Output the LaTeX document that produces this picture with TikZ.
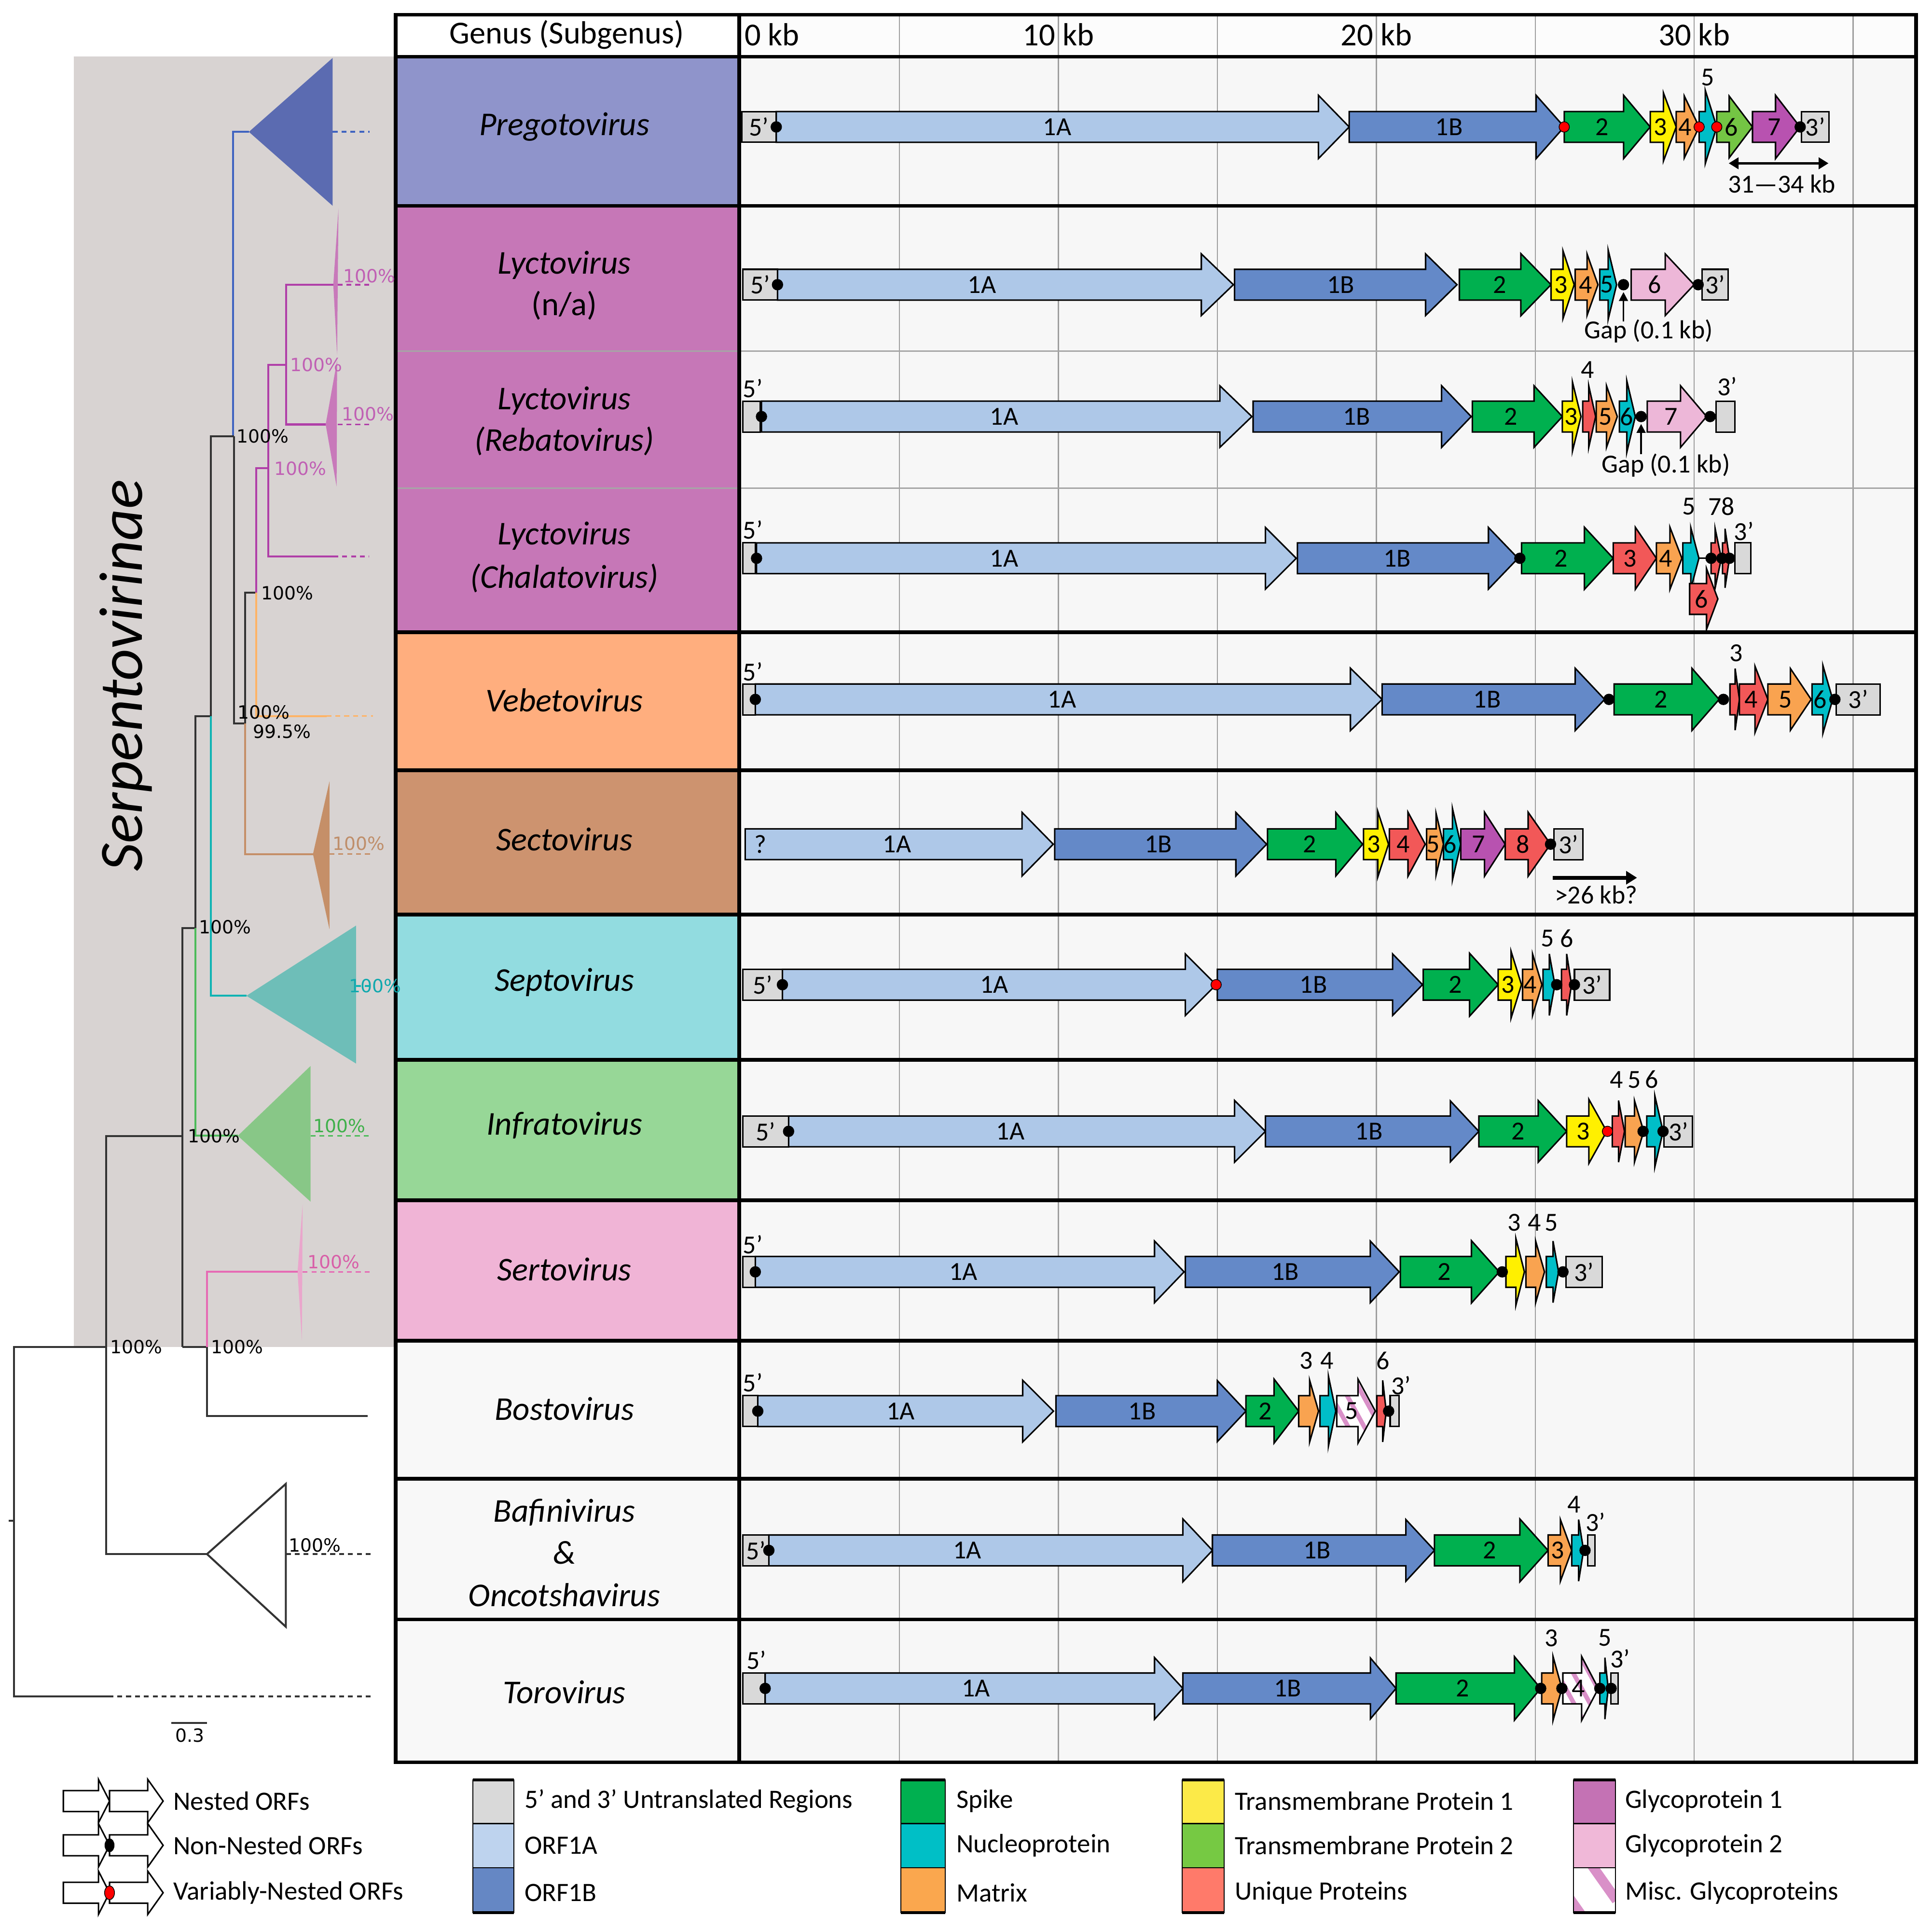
\documentclass[tikz,border=0pt]{standalone}
\usepackage{fontspec}
\setmainfont{Carlito}
\newfontfamily\djvfont{DejaVu Sans}
\usetikzlibrary{arrows.meta}
\newcounter{nn}
% colours
\definecolor{c1A}{HTML}{AEC8E8}
\definecolor{c1B}{HTML}{6489C8}
\definecolor{cS}{HTML}{00B04F}
\definecolor{cN}{HTML}{00BEC8}
\definecolor{cM}{HTML}{F9A350}
\definecolor{cT1}{HTML}{FFF000}
\definecolor{cT2}{HTML}{74C544}
\definecolor{cU}{HTML}{F25858}
\definecolor{cG1}{HTML}{B852B0}
\definecolor{cG2}{HTML}{EDB7D8}
\definecolor{cMisc}{HTML}{D990C8}
\definecolor{cUTR}{HTML}{D9D9D9}
\definecolor{lUTR}{HTML}{D9D9D9}
\definecolor{l1A}{HTML}{BED3EE}
\definecolor{l1B}{HTML}{6587C4}
\definecolor{lS}{HTML}{00B050}
\definecolor{lN}{HTML}{00BFC6}
\definecolor{lM}{HTML}{FAA74E}
\definecolor{lT1}{HTML}{FCEA48}
\definecolor{lT2}{HTML}{76C943}
\definecolor{lU}{HTML}{FF7A6A}
\definecolor{lG1}{HTML}{C472B4}
\definecolor{lG2}{HTML}{F0B8D8}
\definecolor{gPreg}{HTML}{8F94CB}
\definecolor{gLyc}{HTML}{C677B7}
\definecolor{gVeb}{HTML}{FFAE7E}
\definecolor{gSec}{HTML}{CD936F}
\definecolor{gSep}{HTML}{92DCE0}
\definecolor{gInf}{HTML}{97D797}
\definecolor{gSer}{HTML}{F0B4D6}
\definecolor{gWhite}{HTML}{F8F8F8}
\definecolor{gridbg}{HTML}{F7F7F7}
\definecolor{treebg}{HTML}{D8D3D2}
\definecolor{tBlue}{HTML}{3F63C0}
\definecolor{tBlueF}{HTML}{5B6BB1}
\definecolor{tMag}{HTML}{B03FA8}
\definecolor{tMagF}{HTML}{C879BA}
\definecolor{tMagL}{HTML}{C060B4}
\definecolor{tOr}{HTML}{FFB366}
\definecolor{tBr}{HTML}{C58F68}
\definecolor{tBrL}{HTML}{BF8E6A}
\definecolor{tCy}{HTML}{10B3B3}
\definecolor{tCyF}{HTML}{6EBEB8}
\definecolor{tCyL}{HTML}{10A8AD}
\definecolor{tGr}{HTML}{4DBB5A}
\definecolor{tGrF}{HTML}{88C787}
\definecolor{tGrL}{HTML}{3FB04A}
\definecolor{tPk}{HTML}{E66AB4}
\definecolor{tPkF}{HTML}{EAA6CC}
\definecolor{tPkL}{HTML}{D85FA8}
\definecolor{tBk}{HTML}{333333}
% fonts
\newcommand\orffont{\fontsize{15}{18}\selectfont}
\newcommand\genfont{\fontsize{19.2}{23}\selectfont\itshape}
\newcommand\genupfont{\fontsize{19.2}{23}\selectfont}
\newcommand\hdrfont{\fontsize{18.5}{22}\selectfont}
\newcommand\treefont{\djvfont\fontsize{10.5}{12}\selectfont}
\newcommand\legfont{\fontsize{15.3}{18}\selectfont}
% macros
\newcommand\orf[8]{%
 \path[orfline,fill=#5] (#1,#4-12.5) -- (#2,#4-12.5) -- (#2,#4-#6) -- (#3,#4) -- (#2,#4+#6) -- (#2,#4+12.5) -- (#1,#4+12.5) -- cycle;
 \stepcounter{nn}\node[lbl] (n\arabic{nn}) at (#7,#4) {#8};}
\newcommand\orfnl[6]{%
 \path[orfline,fill=#5] (#1,#4-12.5) -- (#2,#4-12.5) -- (#2,#4-#6) -- (#3,#4) -- (#2,#4+#6) -- (#2,#4+12.5) -- (#1,#4+12.5) -- cycle;}
\newcommand\miscorf[7]{%
 \begin{scope}
 \clip (#1,#4-12.5) -- (#2,#4-12.5) -- (#2,#4-#5) -- (#3,#4) -- (#2,#4+#5) -- (#2,#4+12.5) -- (#1,#4+12.5) -- cycle;
 \fill[white] (#1,#4-#5) rectangle (#3,#4+#5);
 \foreach \k in {0,...,6} \draw[cMisc,line width=0.9mm] ({#1-25+\k*13},#4-#5) -- ({#1-25+\k*13+1.1*#5},#4+#5);
 \end{scope}
 \path[orfline] (#1,#4-12.5) -- (#2,#4-12.5) -- (#2,#4-#5) -- (#3,#4) -- (#2,#4+#5) -- (#2,#4+12.5) -- (#1,#4+12.5) -- cycle;
 \stepcounter{nn}\node[lbl] (n\arabic{nn}) at (#6,#4) {#7};}
\newcommand\utrbox[4]{%
 \path[orfline,fill=cUTR] (#1,#3-12.5) rectangle (#2,#3+12.5);
 \stepcounter{nn}\node[lbl] (n\arabic{nn}) at ({(#1+#2)/2},#3) {#4};}
\newcommand\bdot[2]{\fill[black] (#1,#2) circle[radius=1.15mm];}
\newcommand\rdot[2]{\filldraw[fill=red,draw=black,line width=0.15mm] (#1,#2) circle[radius=1.05mm];}
\newcommand\lab[3]{\stepcounter{nn}\node[lbl] (n\arabic{nn}) at (#1,#2) {#3};}
\newcommand\legarr[4]{%
 \path[draw=black,line width=0.3mm,fill=white] (#1,#4-8.5) -- (#2,#4-8.5) -- (#2,#4-17.6) -- (#3,#4) -- (#2,#4+17.6) -- (#2,#4+8.5) -- (#1,#4+8.5) -- cycle;}
\begin{document}
\begin{tikzpicture}[x=0.25mm,y=-0.25mm,
 orfline/.style={draw=black,line width=0.3mm,line join=miter},
 lbl/.style={font=\orffont,inner sep=0pt},
 gridline/.style={draw=black!38,line width=0.25mm},
 sepline/.style={draw=black!35,line width=0.3mm},
 thickline/.style={draw=black,line width=0.75mm},
 tline/.style={line width=0.4mm},
 tdash/.style={line width=0.35mm,dash pattern=on 1mm off 0.8mm},
 tlab/.style={font=\treefont,anchor=west,inner sep=0.5pt},
 genus/.style={font=\genfont,inner sep=0pt},
 leg/.style={font=\legfont,anchor=west,inner sep=0pt}]
\useasboundingbox (0,0) rectangle (1568,1566.04);
\fill[white] (0,0) rectangle (1568,1566.04);
% ---------------- tree background
\fill[treebg] (60,46) rectangle (321,1093);
% ---------------- table backgrounds
\fill[gridbg] (600,12) rectangle (1555,1430);
\fill[white!60!gridbg] (600,12) rectangle (1555,46);
\fill[white] (321,12) rectangle (600,46);
\fill[gPreg] (321,46) rectangle (600,167);
\fill[gLyc] (321,167) rectangle (600,513);
\fill[gVeb] (321,513) rectangle (600,625);
\fill[gSec] (321,625) rectangle (600,742);
\fill[gSep] (321,742) rectangle (600,860);
\fill[gInf] (321,860) rectangle (600,974);
\fill[gSer] (321,974) rectangle (600,1088);
\fill[gWhite] (321,1088) rectangle (600,1430);
\foreach \gx in {730,859,988,1117,1246,1375,1504} \draw[gridline] (\gx,12) -- (\gx,1430);
\draw[sepline] (321,285) -- (1555,285);
\draw[sepline] (321,396) -- (1555,396);
\foreach \ry in {46,167,513,625,742,860,974,1088,1200,1314} \draw[thickline] (321,\ry) -- (1555,\ry);
\draw[thickline] (600,12) -- (600,1430);
\draw[thickline] (321,12) rectangle (1555,1430);
% ---------------- header
\node[font=\hdrfont,inner sep=0pt] (hgenus) at (460,28) {Genus (Subgenus)};
\node[font=\hdrfont,inner sep=0pt,anchor=west] (h0) at (604,28) {0 kb};
\node[font=\hdrfont,inner sep=0pt] (h10) at (859,28) {10 kb};
\node[font=\hdrfont,inner sep=0pt] (h20) at (1117,28) {20 kb};
\node[font=\hdrfont,inner sep=0pt] (h30) at (1375,28) {30 kb};
% ---------------- genus names
\node[genus] (gpreg) at (458,103) {Pregotovirus};
\node[genus] (gly1) at (458,215) {Lyctovirus};
\node[font=\genupfont,inner sep=0pt] (gly1s) at (458,248) {(n/a)};
\node[genus] (gly2) at (458,325) {Lyctovirus};
\node[genus] (gly2s) at (458,358) {(Rebatovirus)};
\node[genus] (gly3) at (458,435) {Lyctovirus};
\node[genus] (gly3s) at (458,469) {(Chalatovirus)};
\node[genus] (gveb) at (458,568) {Vebetovirus};
\node[genus] (gsec) at (458,681) {Sectovirus};
\node[genus] (gsep) at (458,797) {Septovirus};
\node[genus] (ginf) at (458,913) {Infratovirus};
\node[genus] (gser) at (458,1030) {Sertovirus};
\node[genus] (gbos) at (458,1143) {Bostovirus};
\node[genus] (gbaf) at (458,1227) {Bafinivirus};
\node[genus] (gamp) at (458,1260) {\&};
\node[genus] (gonc) at (458,1294) {Oncotshavirus};
\node[genus] (gtor) at (458,1373) {Torovirus};
% ---------------- tree
\node[font=\fontsize{35.6}{40}\selectfont\itshape,rotate=90,inner sep=0pt] (serp) at (102,548) {Serpentovirinae};
% blue
\fill[tBlueF] (202,107) -- (270,47) -- (270,167) -- cycle;
\draw[tline,tBlue] (189,354) -- (189,107) -- (202,107);
\draw[tdash,tBlue] (270,107) -- (300,107);
% black backbone
\draw[tline,tBk] (190,354) -- (171,354) -- (171,581);
\draw[tline,tBk] (190,354) -- (190,587) -- (199,587) -- (199,481) -- (208,481);
\draw[tline,tBk] (171,581) -- (158.6,581) -- (158.6,753);
\draw[tline,tBk] (158.6,753) -- (148,753) -- (148,1093);
\draw[tline,tBk] (148,922) -- (86,922) -- (86,1261) -- (168,1261);
\draw[tline,tBk] (148,1093) -- (168,1093) -- (168,1149) -- (298.5,1149);
\draw[tline,tBk] (86,1093) -- (11.4,1093) -- (11.4,1376.5) -- (88,1376.5);
\draw[tdash,tBk] (88,1376.5) -- (300.6,1376.5);
\draw[tline,tBk] (7,1234) -- (11.4,1234);
\draw[tline,tBk] (168,1261) -- (232,1204) -- (232,1320) -- cycle;
\draw[tdash,tBk] (232,1261) -- (300.6,1261);
% magenta (Lyctovirus)
\fill[tMagF] (270.5,231) -- (274.7,169) -- (273.6,288) -- cycle;
\fill[tMagF] (264.3,344.4) -- (273.6,292.5) -- (273.2,394.8) -- cycle;
\draw[tline,tMag] (208,481) -- (208,380) -- (217.7,380);
\draw[tline,tMag] (232.2,296) -- (217.7,296) -- (217.7,451.6) -- (270.5,451.6);
\draw[tline,tMag] (270.5,231) -- (232.2,231) -- (232.2,344.4) -- (264.3,344.4);
\draw[tdash,tMag] (270.5,451.6) -- (299.5,451.6);
\draw[tdash,tMag] (274,231) -- (300,231);
\draw[tdash,tMag] (274,344.4) -- (299.5,344.4);
% orange
\draw[tline,tOr] (208,481) -- (208,581) -- (265,581);
\draw[tdash,tOr] (265,581) -- (302.7,581);
% brown
\fill[tBr] (254,693) -- (267.4,634) -- (267.4,754) -- cycle;
\draw[tline,tBr] (199,587) -- (199,693) -- (254,693);
\draw[tdash,tBr] (267.4,693) -- (302.7,693);
% cyan
\fill[tCyF] (200,808) -- (289,751) -- (289,863) -- cycle;
\draw[tline,tCy] (171,581) -- (171,808) -- (200,808);
\draw[tdash,tCy] (289,800) -- (301.6,800);
% green
\fill[tGrF] (193,921.6) -- (252,865) -- (252,975) -- cycle;
\draw[tline,tGr] (158.6,753) -- (158.6,921.6) -- (193,921.6);
\draw[tdash,tGr] (252,921.6) -- (300.6,921.6);
% pink (Sertovirus)
\fill[tPkF] (241.5,1032) -- (245.6,977) -- (245,1088) -- cycle;
\draw[tline,tPk] (168,1093) -- (168,1032) -- (241.5,1032);
\draw[tdash,tPk] (245.6,1032) -- (300.6,1032);
% support values
\node[tlab,text=black] (s1) at (191,354) {100\%};
\node[tlab,text=tMagL] (s2) at (277.5,224) {100\%};
\node[tlab,text=tMagL] (s3) at (234.5,296) {100\%};
\node[tlab,text=tMagL] (s4) at (276.5,336) {100\%};
\node[tlab,text=tMagL] (s5) at (221.5,380) {100\%};
\node[tlab,text=black] (s6) at (211,481) {100\%};
\node[tlab,text=black] (s7) at (192,578) {100\%};
\node[tlab,text=black] (s8) at (204.5,593.5) {99.5\%};
\node[tlab,text=tBrL] (s9) at (269,684.5) {100\%};
\node[tlab,text=black] (s10) at (160.5,752) {100\%};
\node[tlab,text=tCyL] (s11) at (282.5,800) {100\%};
\node[tlab,text=tGrL] (s12) at (253.5,913.5) {100\%};
\node[tlab,text=black] (s13) at (151.5,921.6) {100\%};
\node[tlab,text=tPkL] (s14) at (248.5,1024) {100\%};
\node[tlab,text=black] (s15) at (88.5,1093) {100\%};
\node[tlab,text=black] (s16) at (170.5,1093) {100\%};
\node[tlab,text=black] (s17) at (233.5,1254) {100\%};
\draw[tline,tBk] (139,1398) -- (168,1398);
\node[font=\treefont,inner sep=0pt] (scale) at (154,1408) {0.3};
% ---------------- Row 1: Pregotovirus
\utrbox{602}{630}{103}{5’}
\orf{630}{1070}{1095}{103}{c1A}{25.7}{858}{1A}
\orf{1095}{1246.7}{1269.5}{103}{c1B}{25.7}{1176}{1B}
\orf{1269.5}{1317.7}{1339.3}{103}{cS}{25.7}{1300}{2}
\orf{1339.3}{1350}{1360.4}{103}{cT1}{27.7}{1347.5}{3}
\orf{1360.4}{1367}{1379}{103}{cM}{25}{1367.5}{4}
\orfnl{1379}{1384}{1393.3}{103}{cN}{29.7}
\orf{1393.3}{1403.4}{1422.3}{103}{cT2}{25}{1405}{6}
\orf{1422.3}{1441}{1460.9}{103}{cG1}{25.7}{1440}{7}
\utrbox{1462}{1484.5}{103}{3’}
\bdot{630}{103}\rdot{1269.5}{103}\rdot{1379}{103}\rdot{1393.3}{103}\bdot{1461}{103}
\lab{1386}{63}{5}
\draw[line width=0.55mm,{Triangle[length=2mm,width=2.3mm]}-{Triangle[length=2mm,width=2.3mm]}] (1403,132.5) -- (1484,132.5);
\lab{1446}{149}{31—34 kb}
% ---------------- Row 2: Lyctovirus (n/a)
\utrbox{603}{631}{231}{5’}
\orf{631}{975}{1001}{231}{c1A}{25}{797}{1A}
\orf{1002}{1157}{1182.5}{231}{c1B}{25}{1088}{1B}
\orf{1184.4}{1234.3}{1258.8}{231}{cS}{25.2}{1217}{2}
\orf{1258.8}{1268.5}{1277.6}{231}{cT1}{27.5}{1267}{3}
\orf{1278.4}{1288}{1296.9}{231}{cM}{25}{1287}{4}
\orf{1298.3}{1305.2}{1312}{231}{cN}{28}{1304}{5}
\orf{1323.9}{1351.5}{1374.9}{231}{cG2}{25}{1343}{6}
\utrbox{1381.5}{1402.5}{231}{3’}
\bdot{631}{231}\bdot{1317.6}{231}\bdot{1378.2}{231}
\draw[line width=0.35mm,-{Triangle[length=1.8mm,width=1.8mm]}] (1317.6,261) -- (1317.6,237);
\lab{1338}{268.5}{Gap (0.1 kb)}
% ---------------- Row 3: Lyctovirus (Rebatovirus)
\utrbox{603}{617}{338}{}
\lab{611}{315}{5’}
\orf{618}{990}{1016}{338}{c1A}{25}{815}{1A}
\orf{1017}{1170}{1194}{338}{c1B}{25}{1101}{1B}
\orf{1194.9}{1245}{1268}{338}{cS}{25}{1226}{2}
\orf{1268}{1276.2}{1283.1}{338}{cT1}{28}{1275}{3}
\orfnl{1284.5}{1289.4}{1295}{338}{cU}{25}
\orf{1295.5}{1303.8}{1312.6}{338}{cM}{25}{1303}{5}
\orf{1314.3}{1320.3}{1327.2}{338}{cN}{29}{1320}{6}
\orf{1336.9}{1363.9}{1385.1}{338}{cG2}{25}{1356}{7}
\utrbox{1392.6}{1408}{338}{}
\bdot{618}{338}\bdot{1331.9}{338}\bdot{1387.9}{338}
\lab{1288.6}{300}{4}
\lab{1401.7}{313.5}{3’}
\draw[line width=0.35mm,-{Triangle[length=1.8mm,width=1.8mm]}] (1331.9,368.5) -- (1331.9,344);
\lab{1352}{377.5}{Gap (0.1 kb)}
% ---------------- Row 4: Lyctovirus (Chalatovirus)
\utrbox{603}{613}{453}{}
\lab{611}{430}{5’}
\orf{614}{1027}{1052}{453}{c1A}{25}{815}{1A}
\orf{1053}{1208}{1232}{453}{c1B}{25}{1134}{1B}
\orf{1234.9}{1285.9}{1309.3}{453}{cS}{25.2}{1267}{2}
\orf{1309.3}{1327.2}{1344.3}{453}{cU}{25.2}{1323}{3}
\orf{1344.3}{1355.3}{1365}{453}{cM}{25.2}{1352}{4}
\orfnl{1365.8}{1372.2}{1378.8}{453}{cN}{25}
\draw[line width=0.3mm] (1378.8,453) -- (1388.7,453);
\orfnl{1388.7}{1392}{1397}{453}{cU}{24}
\orfnl{1398}{1400}{1403.6}{453}{cU}{24}
\utrbox{1408}{1421}{453}{}
\orf{1371.3}{1385}{1394.2}{486}{cU}{24.6}{1381}{6}
\bdot{614}{453}\bdot{1233.5}{453}\bdot{1388.7}{453}\bdot{1397.5}{453}\bdot{1403.6}{453}
\lab{1370.5}{411}{5}
\lab{1397}{411}{78}
\lab{1415.4}{431}{3’}
% ---------------- Row 5: Vebetovirus
\utrbox{603}{613}{567.5}{}
\lab{611}{545}{5’}
\orf{613}{1096}{1121.7}{567.5}{c1A}{25.3}{862}{1A}
\orf{1121.7}{1278.4}{1302.3}{567.5}{c1B}{25.3}{1207}{1B}
\orf{1310}{1373.1}{1395.2}{567.5}{cS}{25.3}{1348}{2}
\orfnl{1404}{1408.2}{1411.7}{567.5}{cU}{25}
\orf{1411.7}{1424.3}{1434.8}{567.5}{cU}{27}{1421}{4}
\orf{1434.8}{1453.1}{1469.9}{567.5}{cM}{25}{1449}{5}
\orf{1470.6}{1479.4}{1487.4}{567.5}{cN}{27.7}{1477}{6}
\utrbox{1490.2}{1526}{567.5}{3’}
\bdot{613}{567.5}\bdot{1305.8}{567.5}\bdot{1398.7}{567.5}\bdot{1489.2}{567.5}
\lab{1409.2}{530}{3}
% ---------------- Row 6: Sectovirus
\orf{604.8}{829.5}{854.8}{685}{c1A}{25.8}{728}{1A}
\lab{617}{685}{?}
\orf{856}{1003}{1028}{685}{c1B}{25.8}{940}{1B}
\orf{1028.7}{1084.1}{1105.9}{685}{cS}{25.8}{1063}{2}
\orf{1106.6}{1118.2}{1126.9}{685}{cT1}{26.6}{1115}{3}
\orf{1127.6}{1142.7}{1156.7}{685}{cU}{26}{1139}{4}
\orf{1157.8}{1165.5}{1171.5}{685}{cM}{25}{1163}{5}
\orf{1171.5}{1178.8}{1185.5}{685}{cN}{29}{1177}{6}
\orf{1185.5}{1204.8}{1221.6}{685}{cG1}{26}{1200}{7}
\orf{1221.6}{1240.2}{1258.4}{685}{cU}{26}{1236}{8}
\utrbox{1261.2}{1284.7}{685}{3’}
\bdot{1258.4}{685}
\draw[line width=0.75mm,-{Triangle[length=2.2mm,width=2.6mm]}] (1260.2,712.2) -- (1328.6,712.2);
\lab{1295.3}{726}{>26 kb?}
% ---------------- Row 7: Septovirus
\utrbox{603}{635}{799}{5’}
\orf{635}{962}{987}{799}{c1A}{25}{807}{1A}
\orf{988}{1130.2}{1154.5}{799}{c1B}{25}{1066}{1B}
\orf{1155.1}{1192.7}{1215.9}{799}{cS}{25.5}{1181}{2}
\orf{1215.9}{1226.4}{1234.8}{799}{cT1}{27}{1224}{3}
\orf{1235.7}{1243.8}{1251.4}{799}{cM}{25}{1242}{4}
\orfnl{1252.3}{1257.4}{1261.9}{799}{cN}{25}
\orfnl{1267.3}{1271.5}{1275.4}{799}{cU}{25}
\utrbox{1277.8}{1306.4}{799}{3’}
\bdot{635}{799}\rdot{987}{799}\bdot{1263.4}{799}\bdot{1277.8}{799}
\lab{1255.9}{761.5}{5}
\lab{1271.5}{761.5}{6}
% ---------------- Row 8: Infratovirus
\utrbox{603}{640}{918}{5’}
\orf{640}{1002}{1027}{918}{c1A}{25}{820}{1A}
\orf{1027}{1177.1}{1200.2}{918}{c1B}{24.7}{1111}{1B}
\orf{1200.2}{1248.4}{1271.5}{918}{cS}{25}{1232}{2}
\orf{1271.5}{1289.5}{1304}{918}{cT1}{26}{1285}{3}
\orfnl{1308.5}{1313.6}{1318.4}{918}{cU}{25}
\orfnl{1319}{1326.5}{1334}{918}{cM}{25}
\orfnl{1336.5}{1343.1}{1349.7}{918}{cN}{28.6}
\utrbox{1350.6}{1373.7}{918}{3’}
\bdot{640}{918}\rdot{1304.6}{918}\bdot{1333.5}{918}\bdot{1349.7}{918}
\lab{1312.1}{876}{4}
\lab{1326.5}{876}{5}
\lab{1340.7}{876}{6}
% ---------------- Row 9: Sertovirus
\utrbox{603}{613}{1032}{}
\lab{611}{1010}{5’}
\orf{613}{937}{961}{1032}{c1A}{25}{782}{1A}
\orf{962}{1112.1}{1135.6}{1032}{c1B}{25}{1043}{1B}
\orf{1136.5}{1194.2}{1216.8}{1032}{cS}{25.3}{1172}{2}
\orfnl{1222.2}{1230.3}{1237.2}{1032}{cT1}{27}
\orfnl{1238.4}{1246.3}{1253.5}{1032}{cM}{25}
\orfnl{1255}{1260.4}{1264.9}{1032}{cN}{25}
\utrbox{1270.9}{1300.4}{1032}{3’}
\bdot{613}{1032}\bdot{1219.2}{1032}\bdot{1268.5}{1032}
\lab{1228.8}{992}{3}
\lab{1245.3}{992}{4}
\lab{1258.9}{992}{5}
% ---------------- Row 10: Bostovirus
\utrbox{603}{615}{1145}{}
\lab{611}{1122}{5’}
\orf{615}{830}{855}{1145}{c1A}{25}{731}{1A}
\orf{857}{988}{1011.2}{1145}{c1B}{24.7}{927}{1B}
\orf{1011.2}{1034}{1054}{1145}{cS}{26}{1027}{2}
\orfnl{1054}{1062.9}{1070.1}{1145}{cM}{25}
\orfnl{1071.3}{1078.1}{1084.1}{1145}{cN}{28.6}
\miscorf{1084.9}{1102.1}{1116.2}{1145}{26}{1097}{5}
\orfnl{1117.4}{1122.2}{1125}{1145}{cU}{25}
\utrbox{1128.2}{1135.4}{1145}{}
\bdot{615}{1145}\bdot{1127}{1145}
\lab{1060}{1104}{3}
\lab{1077}{1104}{4}
\lab{1122.2}{1104}{6}
\lab{1137}{1124}{3’}
% ---------------- Row 11: Bafinivirus & Oncotshavirus
\utrbox{603}{624}{1258}{5’}
\orf{624}{960}{984}{1258}{c1A}{25.5}{785}{1A}
\orf{984}{1141}{1164.2}{1258}{c1B}{25}{1069}{1B}
\orf{1164.2}{1233.5}{1256.4}{1258}{cS}{25.5}{1209}{2}
\orf{1256.4}{1266.4}{1275.6}{1258}{cM}{25}{1264}{3}
\orfnl{1275.6}{1281.2}{1285.2}{1258}{cN}{25}
\utrbox{1288.4}{1294.4}{1258}{}
\bdot{624}{1258}\bdot{1286.4}{1258}
\lab{1277.6}{1220.6}{4}
\lab{1295}{1235}{3’}
% ---------------- Row 12: Torovirus
\utrbox{603}{621}{1370}{}
\lab{614}{1347}{5’}
\orf{621}{937}{960}{1370}{c1A}{25}{792}{1A}
\orf{960}{1112.2}{1133}{1370}{c1B}{24.7}{1045}{1B}
\orf{1133}{1229.1}{1250.4}{1370}{cS}{25.8}{1187}{2}
\orfnl{1251.2}{1260.4}{1267.6}{1370}{cM}{26}
\miscorf{1268.4}{1283.6}{1297.2}{1370}{26}{1281}{4}
\orfnl{1298.4}{1302.5}{1305.2}{1370}{cN}{25}
\utrbox{1307.2}{1313.3}{1370}{}
\bdot{621}{1370}\bdot{1250.4}{1370}\bdot{1267.6}{1370}\bdot{1298.4}{1370}\bdot{1307.6}{1370}
\lab{1259.2}{1329}{3}
\lab{1302.5}{1329}{5}
\lab{1315}{1346}{3’}
% ---------------- Legend
\legarr{51.4}{79.9}{88.9}{1461.4}\legarr{88.9}{119.9}{132.4}{1461.4}
\legarr{51.4}{79.9}{88.9}{1497.3}\legarr{88.9}{119.9}{132.4}{1497.3}
\legarr{51.4}{79.9}{88.9}{1535.8}\legarr{88.9}{119.9}{132.4}{1535.8}
\fill[black] (88.9,1497.3) ellipse[x radius=1mm,y radius=1.4mm];
\filldraw[fill=red,draw=black,line width=0.15mm] (88.9,1535.8) ellipse[x radius=1mm,y radius=1.4mm];
\node[leg] (t1) at (140.5,1461.4) {Nested ORFs};
\node[leg] (t2) at (140.5,1497.3) {Non-Nested ORFs};
\node[leg] (t3) at (140.5,1535.8) {Variably-Nested ORFs};
% swatch columns
\foreach \xa/\xb/\ca/\cb/\cc in {383.6/417.1/lUTR/l1A/l1B, 731/767/lS/lN/lM, 959.4/993.4/lT1/lT2/lU, 1277.2/1311.2/lG1/lG2/white}{
 \fill[\ca] (\xa,1444.4) rectangle (\xb,1479.6);
 \fill[\cb] (\xa,1479.6) rectangle (\xb,1515.5);
 \fill[\cc] (\xa,1515.5) rectangle (\xb,1552);
}
\begin{scope}
\clip (1277.2,1515.5) rectangle (1311.2,1552);
\draw[cMisc,line width=2mm] (1288,1508) -- (1312,1542);
\draw[cMisc,line width=2mm] (1268,1532) -- (1292,1566);
\end{scope}
\foreach \xa/\xb in {383.6/417.1, 731/767, 959.4/993.4, 1277.2/1311.2}{
 \draw[line width=0.2mm] (\xa,1444.4) rectangle (\xb,1552);
 \draw[line width=0.25mm] (\xa,1479.6) -- (\xb,1479.6);
 \draw[line width=0.25mm] (\xa,1515.5) -- (\xb,1515.5);
 \draw[line width=0.6mm] (\xa,1444.4) -- (\xb,1444.4);
 \draw[line width=0.6mm] (\xa,1552) -- (\xb,1552);
}
\node[leg] (l1) at (425.6,1461.4) {5’ and 3’ Untranslated Regions};
\node[leg] (l2) at (425.6,1497.3) {ORF1A};
\node[leg] (l3) at (425.6,1535.8) {ORF1B};
\node[leg] (l4) at (776,1461.4) {Spike};
\node[leg] (l5) at (776,1497.3) {Nucleoprotein};
\node[leg] (l6) at (776,1535.8) {Matrix};
\node[leg] (l7) at (1002,1461.4) {Transmembrane Protein 1};
\node[leg] (l8) at (1002,1497.3) {Transmembrane Protein 2};
\node[leg] (l9) at (1002,1535.8) {Unique Proteins};
\node[leg] (l10) at (1318.7,1461.4) {Glycoprotein 1};
\node[leg] (l11) at (1318.7,1497.3) {Glycoprotein 2};
\node[leg] (l12) at (1318.7,1535.8) {Misc. Glycoproteins};
\end{tikzpicture}
\end{document}
